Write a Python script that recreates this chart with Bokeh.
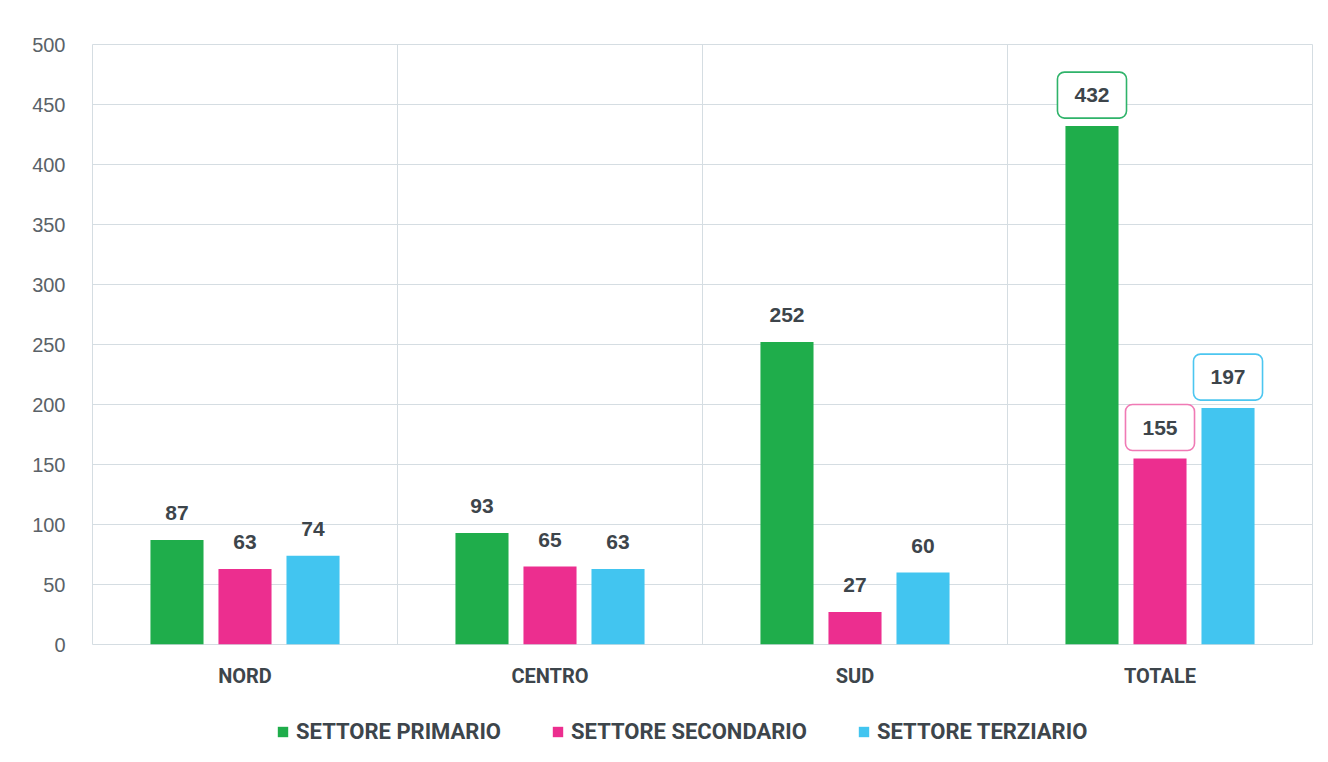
from bokeh.plotting import figure
from bokeh.layouts import column
from bokeh.models import (ColumnDataSource, Range1d, FixedTicker, SingleIntervalTicker,
                          Grid, LabelSet, Label, Legend, LegendItem)
from bokeh.core.properties import value
from bokeh.transform import dodge
from bokeh.embed import file_html
from bokeh.resources import INLINE

categories = ["NORD", "CENTRO", "SUD", "TOTALE"]
series_names = ["SETTORE PRIMARIO", "SETTORE SECONDARIO", "SETTORE TERZIARIO"]
primario = [87, 93, 252, 432]
secondario = [63, 65, 27, 155]
terziario = [74, 63, 60, 197]
y_ticks = [0, 50, 100, 150, 200, 250, 300, 350, 400, 450, 500]

colors = ["#1fad4b", "#ec2e8f", "#42c5f0"]
box_colors = ["#2fb36a", "#f07ab5", "#4cc6f0"]
text_color = "#3d454b"
axis_text = "#5a6268"
grid_major = "#d5dde2"
grid_minor = "#e2e8eb"

keys = ["primario", "secondario", "terziario"]
values = [primario, secondario, terziario]
offsets = [-0.223, 0.0, 0.223]
bar_w = 0.174

pos = [i + 0.5 for i in range(len(categories))]
data = dict(x=pos, cat=categories)
for k, v in zip(keys, values):
    data[k] = v
    data[k + "_t"] = [str(a) for a in v]
source = ColumnDataSource(data)

# regional rows (labels without box)
n_reg = len(categories) - 1
reg = {k: list(v[:n_reg]) for k, v in data.items()}
source_reg = ColumnDataSource(reg)

p = figure(width=1320, height=700, output_backend="svg", toolbar_location=None,
           x_range=Range1d(0, len(categories)), y_range=Range1d(0, 500),
           min_border_left=92, min_border_top=44, min_border_right=8, min_border_bottom=56)
p.background_fill_color = "white"
p.border_fill_color = "white"
p.outline_line_color = grid_major
p.outline_line_width = 1

# minor grid every 20
minor = Grid(dimension=1, ticker=SingleIntervalTicker(interval=20),
             grid_line_color=grid_minor, grid_line_width=1)
p.center = [minor] + list(p.center)

p.ygrid.ticker = FixedTicker(ticks=y_ticks)
p.ygrid.grid_line_color = grid_major
p.ygrid.grid_line_width = 1
p.xgrid.ticker = FixedTicker(ticks=list(range(len(categories) + 1)))
p.xgrid.grid_line_color = grid_major
p.xgrid.grid_line_width = 1

p.yaxis.ticker = FixedTicker(ticks=y_ticks)
p.yaxis.axis_line_color = None
p.yaxis.major_tick_line_color = None
p.yaxis.minor_tick_line_color = None
p.yaxis.major_label_standoff = 21
p.yaxis.major_label_text_font = "Liberation Sans"
p.yaxis.major_label_text_font_size = "20px"
p.yaxis.major_label_text_color = axis_text

p.xaxis.ticker = FixedTicker(ticks=pos)
p.xaxis.major_label_overrides = {x: c for x, c in zip(pos, categories)}
p.xaxis.axis_line_color = None
p.xaxis.major_tick_line_color = None
p.xaxis.minor_tick_line_color = None
p.xaxis.major_label_standoff = 13
p.xaxis.major_label_text_font = "Roboto"
p.xaxis.major_label_text_font_style = "bold"
p.xaxis.major_label_text_font_size = "20px"
p.xaxis.major_label_text_color = text_color

# legend strip below the chart (its bars fall outside its visible range)
leg = figure(width=1320, height=54, output_backend="svg", toolbar_location=None,
             x_range=Range1d(0, len(categories)), y_range=Range1d(1000, 1001),
             x_axis_location=None, y_axis_location=None,
             min_border_left=0, min_border_right=0, min_border_top=0, min_border_bottom=0)
leg.grid.visible = False
leg.outline_line_color = None
leg.background_fill_color = "white"
leg.border_fill_color = "white"

items = []
for k, name, col, off in zip(keys, series_names, colors, offsets):
    p.vbar(x=dodge("x", off, range=p.x_range), top=k, width=bar_w, bottom=0,
           source=source, fill_color=col, line_color=None)
    r2 = leg.vbar(x=dodge("x", off, range=leg.x_range), top=k, width=bar_w, bottom=0,
                  source=source, fill_color=col, line_color=None)
    items.append(LegendItem(label=name, renderers=[r2]))
    ls = LabelSet(x=dodge("x", off, range=p.x_range), y=k, text=k + "_t", source=source_reg,
                  text_align="center", text_baseline="middle", y_offset=27,
                  text_font=value("Liberation Sans"), text_font_style="bold",
                  text_font_size="21px", text_color=text_color)
    p.add_layout(ls)

# TOTALE labels in rounded boxes
ti = len(categories) - 1
for k, col, bc, off in zip(keys, colors, box_colors, offsets):
    lab = Label(x=pos[ti] + off, y=data[k][ti], text=data[k + "_t"][ti],
                text_align="center", text_baseline="middle", y_offset=31,
                text_font="Liberation Sans", text_font_style="bold",
                text_font_size="21px", text_color=text_color,
                background_fill_color="white", border_line_color=bc,
                border_line_width=1.6, border_radius=7,
                padding=dict(left=17, right=17, top=16, bottom=16))
    p.add_layout(lab)

legend = Legend(items=items, orientation="horizontal", location=(184, 10),
                glyph_width=13, glyph_height=13, label_standoff=7, spacing=50,
                label_text_font="Roboto", label_text_font_style="bold",
                label_text_font_size="22px", label_text_color=text_color,
                border_line_color=None, background_fill_alpha=0, margin=0, padding=4)
leg.add_layout(legend)

layout = column(p, leg, spacing=0)
open("out.html", "w").write(file_html(layout, INLINE))
